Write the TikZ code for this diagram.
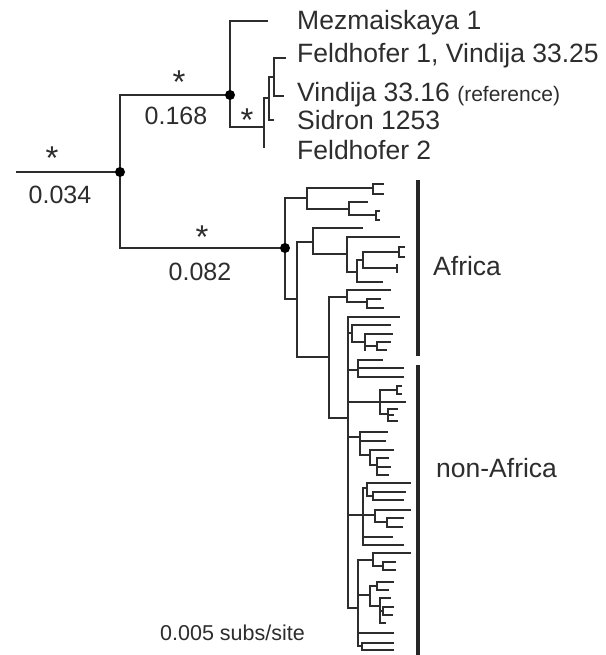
\documentclass[tikz,border=0pt]{standalone}
\usepackage{fontspec}
\setmainfont{Liberation Sans}
\definecolor{ink}{RGB}{45,45,45}
\newcommand\vln[3]{\draw[tree] (#1,#2) -- (#1,#3);}
\newcommand\hln[3]{\draw[tree] (#1,#2) -- (#3,#2);}
\tikzset{
  tree/.style={draw=ink, line width=1.9pt, line cap=rect},
  dotnode/.style={circle, fill=black, inner sep=0pt, minimum size=10pt},
  tiplabel/.style={anchor=base west, inner sep=0pt, text=ink, font=\fontsize{26.5}{30}\selectfont},
  numlabel/.style={anchor=base, inner sep=0pt, text=ink, font=\fontsize{25}{30}\selectfont},
  astlabel/.style={anchor=base, inner sep=0pt, text=ink, font=\fontsize{33}{36}\selectfont},
  barline/.style={draw=black!85, line width=4pt}
}
\begin{document}
\begin{tikzpicture}[x=1pt,y=-1pt]
\useasboundingbox (0,0) rectangle (605,655);
\fill[white] (0,0) rectangle (605,655);
% root and backbone
\hln{17}{172}{120}
\vln{120}{95}{248}
\hln{120}{95}{230}
\hln{120}{248}{285}
% Neanderthal clade
\vln{230}{21}{127}
\hln{230}{21}{267}
\hln{230}{127}{264}
\vln{264}{98}{147}
\hln{264}{98}{269}
\vln{269}{77}{120}
\hln{269}{120}{273}
\hln{269}{77}{274}
\vln{274}{58}{96}
\hln{274}{58}{285}
\hln{274}{96}{283}
% modern humans
\vln{285}{198}{299}
\hln{285}{198}{307}
\hln{285}{299}{297}
% clade A
\vln{307}{188}{209}
\hln{307}{188}{373}
\vln{373}{184}{194}
\hln{373}{184}{383}
\hln{373}{194}{383}
\hln{307}{209}{349}
\vln{349}{202}{215}
\hln{349}{202}{367}
\hln{349}{215}{376}
\vln{376}{211}{220}
\hln{376}{211}{379}
\hln{376}{220}{379}
% clade B
\vln{297}{242}{357}
\hln{297}{242}{313}
\vln{313}{228}{254}
\hln{313}{228}{362}
\hln{313}{254}{347}
\vln{347}{237}{272}
\hln{347}{237}{399}
\hln{347}{272}{357}
\vln{357}{260}{282}
\hln{357}{282}{382}
\hln{357}{260}{363}
\vln{363}{252}{268}
\hln{363}{252}{399}
\vln{399}{247}{257}
\hln{399}{247}{404}
\hln{399}{257}{404}
\hln{363}{268}{397}
\vln{397}{265}{272}
% clade C
\hln{297}{357}{329}
\vln{329}{297}{418}
\hln{329}{297}{347}
\vln{347}{290}{302}
\hln{347}{290}{390}
\hln{347}{302}{367}
\vln{367}{299}{308}
\hln{367}{299}{380}
\hln{367}{308}{383}
\hln{329}{418}{348}
\vln{348}{317}{608}
% a
\hln{348}{317}{399}
% b
\hln{348}{333}{352}
\vln{352}{325}{342}
\hln{352}{325}{390}
\hln{352}{342}{365}
\vln{365}{334}{350}
\hln{365}{334}{392}
\hln{365}{346}{377}
\vln{377}{342}{350}
\hln{377}{342}{390}
\hln{377}{350}{386}
% c
\hln{348}{370}{358}
\vln{358}{360}{377}
\hln{358}{360}{382}
\hln{358}{368}{403}
\hln{358}{377}{403}
% d
\hln{348}{402}{380}
\vln{380}{390}{414}
\hln{380}{390}{397}
\vln{397}{386}{394}
\hln{397}{386}{401}
\hln{397}{394}{401}
\hln{380}{402}{405}
\hln{380}{414}{388}
\vln{388}{409}{421}
\hln{388}{409}{397}
\hln{388}{415}{393}
\hln{388}{421}{397}
% e
\hln{348}{437}{360}
\vln{360}{432}{455}
\hln{360}{432}{387}
\hln{360}{441}{385}
\hln{360}{455}{370}
\vln{370}{450}{465}
\hln{370}{450}{393}
\hln{370}{465}{377}
\vln{377}{458}{475}
\hln{377}{458}{388}
\hln{377}{467}{390}
\hln{377}{475}{388}
% f
\hln{348}{515}{363}
\vln{363}{488}{545}
\hln{363}{488}{367}
\vln{367}{483}{496}
\hln{367}{483}{410}
\hln{367}{496}{373}
\vln{373}{492}{500}
\hln{373}{492}{405}
\hln{373}{500}{403}
\hln{363}{515}{375}
\vln{375}{510}{522}
\hln{375}{510}{410}
\hln{375}{522}{387}
\vln{387}{518}{527}
\hln{387}{518}{403}
\hln{387}{527}{402}
\hln{363}{537}{392}
\hln{363}{545}{403}
% g
\hln{348}{608}{358}
\vln{358}{560}{646}
\hln{358}{560}{373}
\vln{373}{553}{566}
\hln{373}{553}{410}
\hln{373}{566}{383}
\vln{383}{562}{570}
\hln{383}{562}{395}
\hln{383}{570}{395}
\hln{358}{595}{370}
\vln{370}{586}{606}
\hln{370}{586}{377}
\vln{377}{582}{590}
\hln{377}{582}{393}
\hln{377}{590}{388}
\hln{370}{606}{380}
\vln{380}{598}{623}
\hln{380}{598}{390}
\hln{380}{611}{383}
\vln{383}{607}{615}
\hln{383}{607}{393}
\hln{383}{615}{392}
\hln{380}{623}{385}
\hln{358}{633}{393}
\hln{358}{646}{362}
\vln{362}{643}{650}
\hln{362}{643}{393}
\hln{362}{650}{393}
% dots
\node[dotnode] (nroot) at (120,172) {};
\node[dotnode] (nnean) at (230,95) {};
\node[dotnode] (nmod) at (285,248) {};
% group bars
\draw[barline] (418,180) -- (418,356);
\draw[barline] (418,365) -- (418,655);
% tip labels
\node[tiplabel] (l1) at (297,30) {Mezmaiskaya 1};
\node[tiplabel] (l2) at (297,63) {Feldhofer 1, Vindija 33.25};
\node[tiplabel] (l3) at (297,102) {Vindija 33.16 {\fontsize{21}{24}\selectfont(reference)}};
\node[tiplabel] (l4) at (297,130) {Sidron 1253};
\node[tiplabel] (l5) at (297,160) {Feldhofer 2};
\node[tiplabel] (lafr) at (433,275) {Africa};
\node[tiplabel] (lnaf) at (436,477) {non-Africa};
% branch labels
\node[astlabel] (a1) at (52,170) {*};
\node[astlabel] (a2) at (179,94) {*};
\node[astlabel] (a3) at (202,248) {*};
\node[astlabel] (a4) at (247,132) {*};
\node[numlabel] (b1) at (60,203) {0.034};
\node[numlabel] (b2) at (176,125) {0.168};
\node[numlabel] (b3) at (200,280) {0.082};
\node[tiplabel, font=\fontsize{21.5}{26}\selectfont] (scale) at (160,640) {0.005 subs/site};
\end{tikzpicture}
\end{document}
